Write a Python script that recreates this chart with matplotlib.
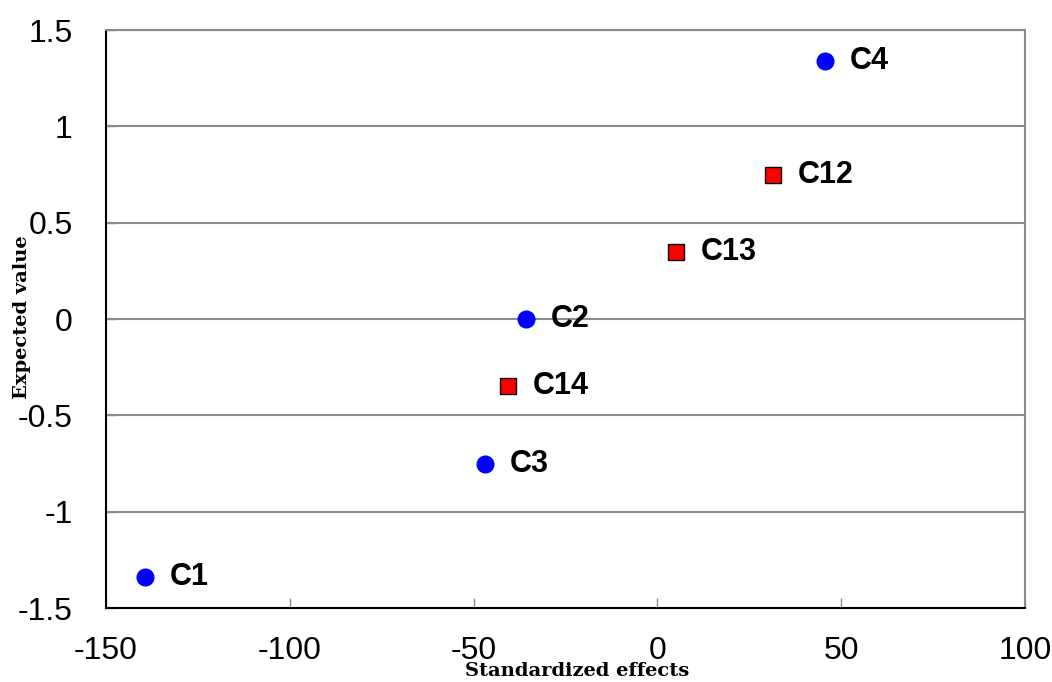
import matplotlib
matplotlib.use("Agg")
import matplotlib.pyplot as plt

plt.rcParams["axes.unicode_minus"] = False

# Normal probability plot of standardized effects
main_names = ["C1", "C3", "C2", "C4"]
main_effects = [-139.4, -46.9, -35.7, 45.6]
main_expected = [-1.34, -0.75, 0.0, 1.34]

inter_names = ["C14", "C13", "C12"]
inter_effects = [-40.6, 5.1, 31.4]
inter_expected = [-0.35, 0.35, 0.75]

x_ticks = [-150, -100, -50, 0, 50, 100]
y_ticks = [-1.5, -1, -0.5, 0, 0.5, 1, 1.5]
y_tick_labels = ["-1.5", "-1", "-0.5", "0", "0.5", "1", "1.5"]

fig = plt.figure(figsize=(10.52, 6.82), dpi=100)
ax = fig.add_axes([0.1008, 0.1085, 0.8735, 0.8475])

ax.set_xlim(-150, 100)
ax.set_ylim(-1.5, 1.5)
ax.set_xticks(x_ticks)
ax.set_yticks(y_ticks)
ax.set_yticklabels(y_tick_labels)

for y in y_ticks[1:]:
    ax.axhline(y, color="#8c8c8c", lw=1.5, zorder=1)

ax.plot(main_effects, main_expected, "o", ms=12, color="#0000ff",
        mec="#0000ff", zorder=3)
ax.plot(inter_effects, inter_expected, "s", ms=11, color="#ff0000",
        mec="#000000", mew=1.0, zorder=3)

label_font = dict(family="Liberation Sans", size=22, weight="bold")
for name, x, y in zip(main_names + inter_names,
                      main_effects + inter_effects,
                      main_expected + inter_expected):
    ax.annotate(name, (x, y), xytext=(18, 0), textcoords="offset points",
                va="center", ha="left", zorder=4, **label_font)

ax.spines["left"].set_color("black")
ax.spines["bottom"].set_color("black")
ax.spines["left"].set_linewidth(1.5)
ax.spines["bottom"].set_linewidth(1.5)
ax.spines["top"].set_color("#8c8c8c")
ax.spines["right"].set_color("#8c8c8c")
ax.spines["top"].set_linewidth(1.5)
ax.spines["right"].set_linewidth(1.5)

ax.tick_params(axis="both", direction="in", length=7, width=1,
               color="#8c8c8c", labelsize=23)
ax.tick_params(axis="y", pad=24)
ax.tick_params(axis="x", pad=20)
for lbl in ax.get_xticklabels() + ax.get_yticklabels():
    lbl.set_family("Liberation Sans")

fig.text(0.549, 0.016, "Standardized effects", ha="center", va="center",
         family="DejaVu Serif", weight="bold", fontsize=14)
fig.text(0.021, 0.535, "Expected value", ha="center", va="center",
         rotation=90, family="DejaVu Serif", weight="bold", fontsize=14)

fig.savefig("out.png", dpi=100)
